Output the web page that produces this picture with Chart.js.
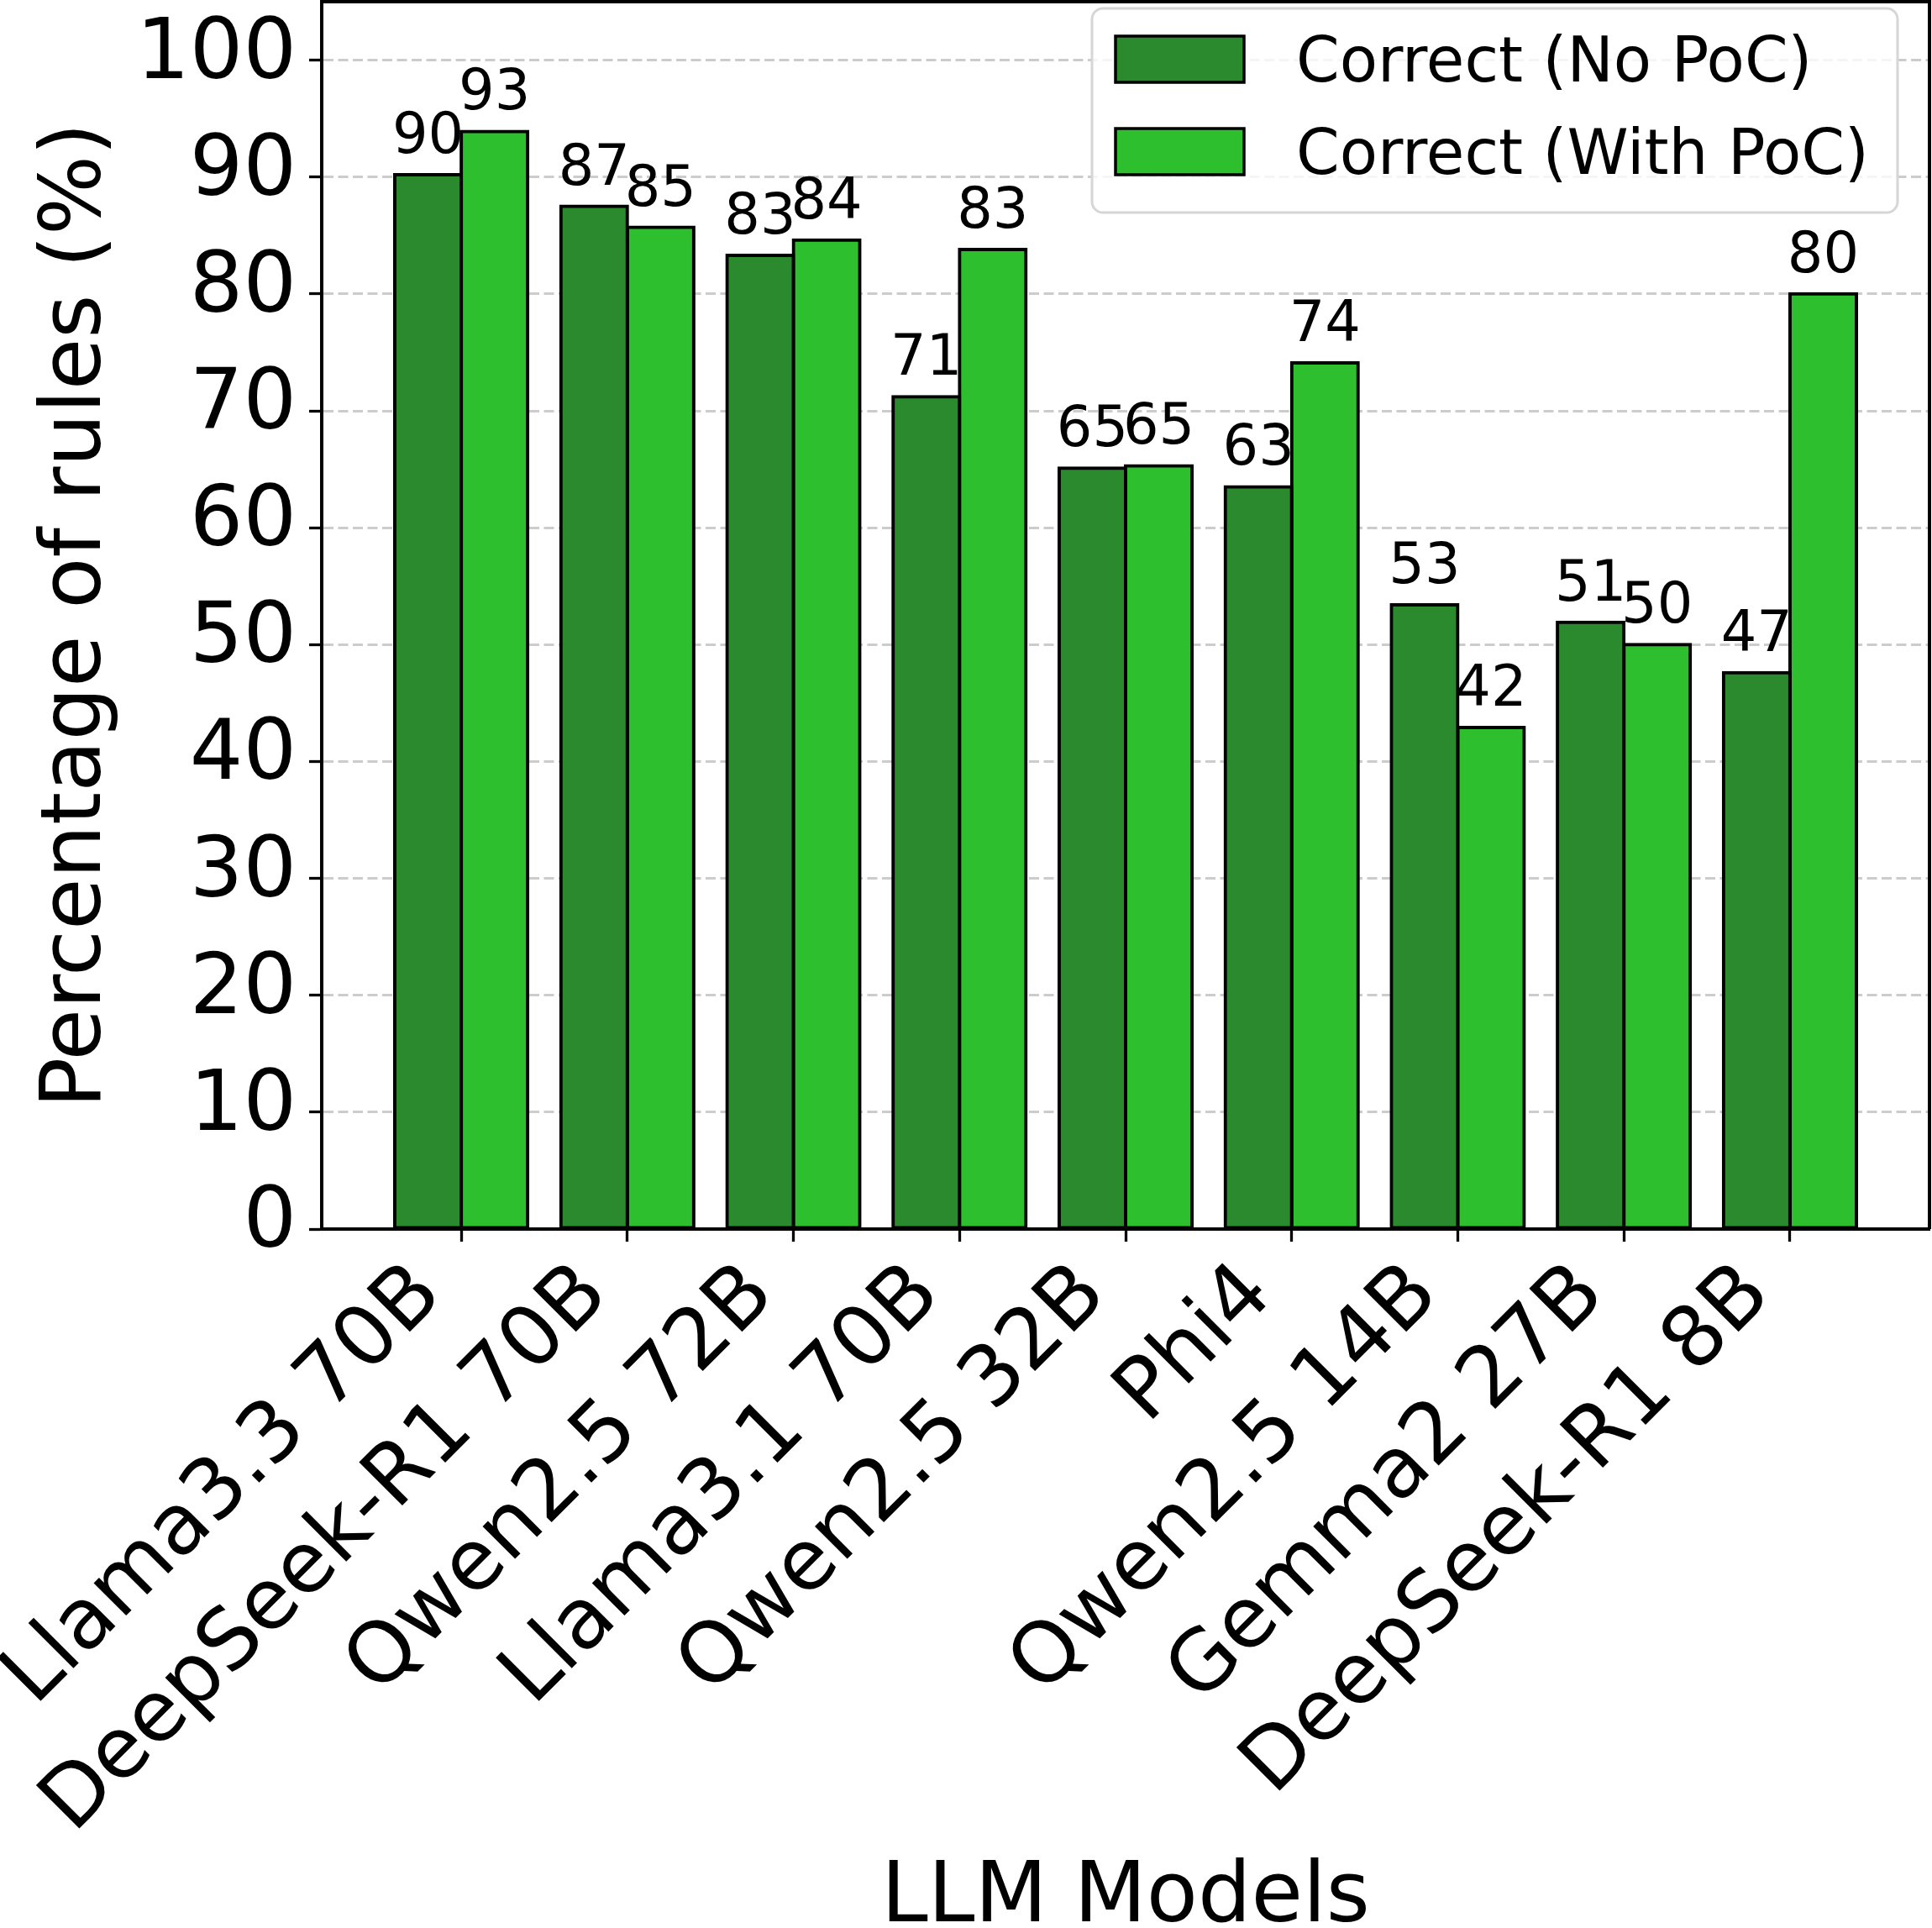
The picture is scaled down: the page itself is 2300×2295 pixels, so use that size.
<!DOCTYPE html>
<html>
<head>
<meta charset="utf-8">
<script src="https://cdn.jsdelivr.net/npm/chart.js@4.4.1/dist/chart.umd.min.js"></script>
<style>
  html, body { margin: 0; padding: 0; background: #fff; }
  canvas { display: block; }
</style>
</head>
<body>
<canvas id="chart" width="2300" height="2295"></canvas>
<script>
const models = ['Llama3.3 70B', 'DeepSeek-R1 70B', 'Qwen2.5 72B', 'Llama3.1 70B', 'Qwen2.5 32B',
  'Phi4', 'Qwen2.5 14B', 'Gemma2 27B', 'DeepSeek-R1 8B'];
const correctNoPoc = [90.2, 87.5, 83.3, 71.2, 65.1, 63.5, 53.4, 51.9, 47.6];
const correctWithPoc = [93.9, 85.7, 84.6, 83.8, 65.3, 74.1, 42.9, 50.0, 80.0];
const yTicks = [0, 10, 20, 30, 40, 50, 60, 70, 80, 90, 100];

const FONT = "'DejaVu Sans', sans-serif";
const DARK = '#2c8a2e';
const LIGHT = '#2ebf2e';

Chart.defaults.font.family = FONT;
Chart.defaults.color = '#000';

// matplotlib-like box around the axes (top and right spines)
const framePlugin = {
  id: 'frame',
  afterDraw(chart) {
    const { ctx, chartArea: a } = chart;
    ctx.save();
    ctx.strokeStyle = '#000';
    ctx.lineWidth = 4;
    ctx.beginPath();
    ctx.moveTo(a.left, a.top);
    ctx.lineTo(a.right, a.top);
    ctx.lineTo(a.right, a.bottom);
    ctx.stroke();
    ctx.restore();
  }
};

// value labels above each bar (truncated to int)
const barLabels = {
  id: 'barLabels',
  afterDraw(chart) {
    const { ctx } = chart;
    ctx.save();
    ctx.font = '67px ' + FONT;
    ctx.fillStyle = '#000';
    ctx.textAlign = 'center';
    ctx.textBaseline = 'alphabetic';
    chart.data.datasets.forEach((ds, i) => {
      chart.getDatasetMeta(i).data.forEach((bar, j) => {
        ctx.fillText(String(Math.floor(ds.data[j].y)), bar.x, bar.y - 26);
      });
    });
    ctx.restore();
  }
};

// legend inside the axes, upper right
const legendBox = {
  id: 'legendBox',
  afterDraw(chart) {
    const { ctx, chartArea: a } = chart;
    const x = a.right - 997, y = a.top + 8, w = 959, h = 243;
    ctx.save();
    ctx.beginPath();
    ctx.roundRect(x, y, w, h, 13);
    ctx.fillStyle = 'rgba(255,255,255,0.8)';
    ctx.fill();
    ctx.strokeStyle = '#d6d6d6';
    ctx.lineWidth = 3;
    ctx.stroke();
    ctx.font = '74px ' + FONT;
    ctx.textAlign = 'left';
    ctx.textBaseline = 'alphabetic';
    chart.data.datasets.forEach((ds, i) => {
      const sy = y + 33 + i * 110;
      ctx.fillStyle = ds.backgroundColor;
      ctx.fillRect(x + 28, sy, 153, 55);
      ctx.strokeStyle = '#000';
      ctx.lineWidth = 3.5;
      ctx.strokeRect(x + 28, sy, 153, 55);
      ctx.fillStyle = '#000';
      ctx.fillText(ds.label, x + 243, sy + 27 + 27);
    });
    ctx.restore();
  }
};

const toPoints = (arr) => arr.map((v, i) => ({ x: i, y: v }));

new Chart(document.getElementById('chart'), {
  type: 'bar',
  data: {
    datasets: [
      { label: 'Correct (No PoC)', data: toPoints(correctNoPoc), backgroundColor: DARK },
      { label: 'Correct (With PoC)', data: toPoints(correctWithPoc), backgroundColor: LIGHT },
    ],
  },
  options: {
    responsive: false,
    animation: false,
    devicePixelRatio: 1,
    layout: { padding: { top: 2, right: 3, left: 0, bottom: 0 } },
    datasets: {
      bar: {
        borderColor: '#000',
        borderWidth: 4,
        borderSkipped: false,
        inflateAmount: 2,
        categoryPercentage: 0.8,
        barPercentage: 1.0,
      },
    },
    plugins: {
      legend: { display: false },
      tooltip: { enabled: false },
    },
    scales: {
      x: {
        type: 'linear',
        min: -0.84,
        max: 8.84,
        offset: false,
        afterBuildTicks: (scale) => { scale.ticks = models.map((m, i) => ({ value: i })); },
        afterFit: (scale) => {
          scale.height = 832;
          scale.paddingLeft = 0;
          scale.paddingRight = 0;
        },
        ticks: {
          autoSkip: false,
          minRotation: 45,
          maxRotation: 45,
          padding: 5,
          labelOffset: -38,
          font: { size: 100 },
          callback: (v) => models[v],
        },
        grid: {
          display: true,
          drawOnChartArea: false,
          drawTicks: true,
          tickLength: 15,
          tickColor: '#000',
          tickWidth: 3.3,
          offset: false,
        },
        border: { display: true, color: '#000', width: 4 },
        title: {
          display: true,
          text: 'LLM Models',
          font: { size: 100, lineHeight: 1.2 },
          padding: { top: 0, bottom: -26 },
        },
      },
      y: {
        min: 0,
        max: 105,
        z: 1,
        afterBuildTicks: (scale) => { scale.ticks = yTicks.map((v) => ({ value: v })); },
        afterFit: (scale) => {
          scale.width = 383;
          scale.paddingTop = 0;
          scale.paddingBottom = 0;
        },
        ticks: {
          padding: 15,
          labelOffset: -5,
          font: { size: 100 },
        },
        grid: {
          color: (c) => (c.tick && c.tick.value === 0 ? 'rgba(0,0,0,0)' : 'rgba(128,128,128,0.4)'),
          lineWidth: 3,
          drawTicks: true,
          tickLength: 15,
          tickColor: '#000',
          tickWidth: 3.3,
          tickBorderDash: [],
        },
        border: { display: true, color: '#000', width: 4, dash: [12, 5.5] },
        title: {
          display: true,
          text: 'Percentage of rules (%)',
          font: { size: 100, lineHeight: 1.2 },
          padding: { top: 33, bottom: 0 },
        },
      },
    },
  },
  plugins: [framePlugin, barLabels, legendBox],
});
</script>
</body>
</html>
